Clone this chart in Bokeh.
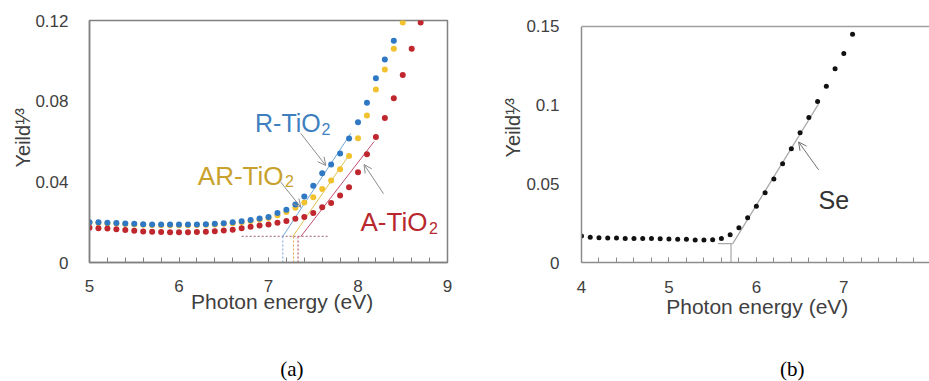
from bokeh.plotting import figure
from bokeh.layouts import row
from bokeh.models import Range1d, Label, Arrow, OpenHead, Span, FixedTicker, Title
from bokeh.embed import file_html
from bokeh.resources import INLINE

# ---------------- data: panel (a) ----------------
energy_r = [5.0, 5.1, 5.2, 5.3, 5.4, 5.5, 5.6, 5.7, 5.8, 5.9, 6.0, 6.1, 6.2, 6.3, 6.4, 6.5, 6.6, 6.7,
            6.8, 6.9, 7.0, 7.1, 7.2, 7.3, 7.4, 7.5, 7.6, 7.7, 7.8, 7.9, 8.0, 8.1, 8.2, 8.3, 8.4]
yield_r = [0.0200, 0.0199, 0.0197, 0.0196, 0.0194, 0.0192, 0.0190, 0.0189, 0.0188, 0.0188, 0.0188,
           0.0188, 0.0189, 0.0190, 0.0192, 0.0195, 0.0199, 0.0204, 0.0211, 0.0218, 0.0226, 0.0245,
           0.0262, 0.0288, 0.0327, 0.0380, 0.0443, 0.0486, 0.0541, 0.0615, 0.0696, 0.0792, 0.0914,
           0.1006, 0.1100]

energy_ar = [5.0, 5.1, 5.2, 5.3, 5.4, 5.5, 5.6, 5.7, 5.8, 5.9, 6.0, 6.1, 6.2, 6.3, 6.4, 6.5, 6.6, 6.7,
             6.8, 6.9, 7.0, 7.1, 7.2, 7.3, 7.4, 7.5, 7.6, 7.7, 7.8, 7.9, 8.0, 8.1, 8.2, 8.3, 8.4, 8.5]
yield_ar = [0.0197, 0.0196, 0.0194, 0.0193, 0.0191, 0.0189, 0.0187, 0.0186, 0.0185, 0.0185, 0.0185,
            0.0185, 0.0186, 0.0187, 0.0189, 0.0192, 0.0195, 0.0200, 0.0206, 0.0213, 0.0221, 0.0234,
            0.0250, 0.0272, 0.0298, 0.0323, 0.0365, 0.0407, 0.0462, 0.0528, 0.0616, 0.0729, 0.0858,
            0.0957, 0.1060, 0.1190]

energy_a = [5.0, 5.1, 5.2, 5.3, 5.4, 5.5, 5.6, 5.7, 5.8, 5.9, 6.0, 6.1, 6.2, 6.3, 6.4, 6.5, 6.6, 6.7,
            6.8, 6.9, 7.0, 7.1, 7.2, 7.3, 7.4, 7.5, 7.6, 7.7, 7.8, 7.9, 8.0, 8.1, 8.2, 8.3, 8.4, 8.5,
            8.6, 8.7]
yield_a = [0.0172, 0.0170, 0.0168, 0.0165, 0.0161, 0.0157, 0.0154, 0.0152, 0.0151, 0.0150, 0.0150,
           0.0150, 0.0151, 0.0153, 0.0155, 0.0159, 0.0163, 0.0170, 0.0177, 0.0183, 0.0189, 0.0197,
           0.0206, 0.0217, 0.0226, 0.0245, 0.0274, 0.0295, 0.0332, 0.0373, 0.0448, 0.0537, 0.0622,
           0.0716, 0.0815, 0.0930, 0.1060, 0.1190]

# threshold fits
fit_r_x, fit_r_y = [7.16, 7.92], [0.0130, 0.0640]
fit_ar_x, fit_ar_y = [7.27, 7.88], [0.0128, 0.0520]
fit_a_x, fit_a_y = [7.36, 8.18], [0.0128, 0.0600]
base_a_x, base_a_y = [6.70, 7.66], [0.0130, 0.0130]
thr_r, thr_ar, thr_a = 7.16, 7.28, 7.33
thr_top_a = 0.0130

# ---------------- data: panel (b) ----------------
energy_se = [4.0, 4.1, 4.2, 4.3, 4.4, 4.5, 4.6, 4.7, 4.8, 4.9, 5.0, 5.1, 5.2, 5.3, 5.4, 5.5, 5.6, 5.7,
             5.8, 5.9, 6.0, 6.1, 6.2, 6.3, 6.4, 6.5, 6.6, 6.7, 6.8, 6.9, 7.0, 7.1]
yield_se = [0.0169, 0.0161, 0.0158, 0.0156, 0.0156, 0.0153, 0.0152, 0.0152, 0.0152, 0.0151, 0.0150,
            0.0147, 0.0147, 0.0143, 0.0143, 0.0145, 0.0152, 0.0177, 0.0221, 0.0284, 0.0358, 0.0444,
            0.0531, 0.0628, 0.0723, 0.0824, 0.0921, 0.1024, 0.1121, 0.1232, 0.1329, 0.1451]
fit_se_x, fit_se_y = [5.73, 6.71], [0.0120, 0.1007]
base_se_x, base_se_y = [5.56, 5.73], [0.0120, 0.0120]
thr_se_x, thr_se_y = [5.71, 5.71], [0.0, 0.0120]

xticks_a = [5, 6, 7, 8, 9]
yticks_a = [0, 0.04, 0.08, 0.12]
ylabels_a = ["0", "0.04", "0.08", "0.12"]
xticks_b = [4, 5, 6, 7, 8]
yticks_b = [0, 0.05, 0.1, 0.15]
ylabels_b = ["0", "0.05", "0.1", "0.15"]

x_title = "Photon energy (eV)"
y_title = "Yeild\u00b9\u2044\u00b3"

FONT = "Liberation Sans"
SERIF = "Liberation Serif"
TICK_COLOR = "#404040"


def lab(p, x, y, text, size, color, align="left", font=FONT):
    p.add_layout(Label(x=x, y=y, x_units="screen", y_units="screen", text=text,
                       text_font=font, text_font_size=f"{size}px", text_color=color,
                       text_align=align, text_baseline="alphabetic"))


def title(p, side, text, size, offset, standoff, font=FONT, color=TICK_COLOR):
    kw = dict(text=text, align="left", offset=offset, standoff=standoff,
              vertical_align="bottom", text_font=font, text_font_size=f"{size}px",
              text_font_style="normal", text_color=color)
    try:
        t = Title(**kw)
    except Exception:
        kw["standoff"] = 0
        t = Title(**kw)
    p.add_layout(t, side)


def style_axes(p, xticks, minor, yticks, ylabels, axis_color, axis_width, xstand, ystand):
    xa = p.xaxis[0]
    xa.ticker = FixedTicker(ticks=xticks, minor_ticks=minor)
    xa.major_tick_in = 5
    xa.major_tick_out = 0
    xa.minor_tick_in = 5
    xa.minor_tick_out = 0
    xa.major_tick_line_color = axis_color
    xa.minor_tick_line_color = axis_color
    xa.axis_line_color = axis_color
    xa.axis_line_width = axis_width
    xa.major_label_text_font = FONT
    xa.major_label_text_font_size = "17px"
    xa.major_label_text_color = TICK_COLOR
    xa.major_label_standoff = xstand
    ya = p.yaxis[0]
    ya.ticker = FixedTicker(ticks=yticks)
    ya.major_label_overrides = {t: s for t, s in zip(yticks, ylabels)}
    ya.major_tick_line_color = None
    ya.minor_tick_line_color = None
    ya.axis_line_color = axis_color
    ya.axis_line_width = axis_width
    ya.major_label_text_font = FONT
    ya.major_label_text_font_size = "17px"
    ya.major_label_text_color = TICK_COLOR
    ya.major_label_standoff = ystand
    p.grid.visible = False


ARROW = "#8c8c8c"

# ---------------- panel (a) ----------------
pa = figure(width=470, height=381, x_range=Range1d(5, 9), y_range=Range1d(0, 0.12),
            output_backend="svg", toolbar_location=None,
            min_border_left=89, min_border_right=23, min_border_top=20, min_border_bottom=119)
pa.background_fill_color = "white"
pa.border_fill_color = "white"
pa.outline_line_color = "#808080"
pa.outline_line_width = 1.5
style_axes(pa, xticks_a, [5 + 0.2 * i for i in range(21)], yticks_a, ylabels_a,
           "#808080", 1.5, 17, 15)

pa.line(base_a_x, base_a_y, line_color="#a05a6a", line_width=1, line_dash="2 2")
pa.line([thr_r, thr_r], [0, thr_top_a], line_color="#6fa8dc", line_width=1, line_dash="2 2")
pa.line([thr_ar, thr_ar], [0, thr_top_a], line_color="#f0a040", line_width=1, line_dash="2 2")
pa.line([thr_a, thr_a], [0, thr_top_a], line_color="#b04050", line_width=1, line_dash="2 2")
pa.line(fit_r_x, fit_r_y, line_color="#6fa8dc", line_width=1)
pa.line(fit_ar_x, fit_ar_y, line_color="#e0c050", line_width=1)
pa.line(fit_a_x, fit_a_y, line_color="#c05070", line_width=1)

pa.scatter(energy_ar, yield_ar, size=6, fill_color="#f2c12e", line_color=None)
pa.scatter(energy_a, yield_a, size=6, fill_color="#c0262d", line_color=None)
pa.scatter(energy_r, yield_r, size=6, fill_color="#2f78c4", line_color=None)

arrows_a = [(7.361, 0.0640, 7.640, 0.0481), (7.138, 0.0398, 7.361, 0.0274),
            (8.285, 0.0341, 8.068, 0.0486)]
for xs, ys, xe, ye in arrows_a:
    pa.add_layout(Arrow(end=OpenHead(size=8, line_color=ARROW, line_width=1),
                        x_start=xs, y_start=ys, x_end=xe, y_end=ye,
                        line_color=ARROW, line_width=1))

lab(pa, 165.5, 139.5, "R-TiO", 25, "#3f7fbf")
lab(pa, 232.0, 133.5, "2", 16, "#3f7fbf")
lab(pa, 108.3, 86.5, "AR-TiO", 26, "#c8a22c")
lab(pa, 195.5, 81.5, "2", 16, "#c8a22c")
lab(pa, 271.0, 40.3, "A-TiO", 26, "#b8282e")
lab(pa, 339.5, 35.0, "2", 16, "#b8282e")

# texts outside the frame: stacked titles
title(pa, "below", x_title, 21, 101.6, -13)
title(pa, "below", " ", 1, 0, 45)
title(pa, "below", "(a)", 21, 190.8, 0, font=SERIF, color="black")
title(pa, "left", y_title, 20, 95, -2)

# ---------------- panel (b) ----------------
pb = figure(width=459, height=381, x_range=Range1d(4, 7.98), y_range=Range1d(0, 0.15381),
            output_backend="svg", toolbar_location=None,
            min_border_left=111, min_border_right=0, min_border_top=20, min_border_bottom=119)
pb.background_fill_color = "white"
pb.border_fill_color = "white"
pb.outline_line_color = None
style_axes(pb, xticks_b, [4 + 0.2 * i for i in range(20)], yticks_b, ylabels_b,
           "#8c8c8c", 1.5, 18, 16)
pb.yaxis[0].bounds = (0, 0.15)
pb.add_layout(Span(location=0.15, dimension="width", line_color="#a0a0a0", line_width=1.5))

pb.line(fit_se_x, fit_se_y, line_color="#a8a8a8", line_width=1.2)
pb.line(base_se_x, base_se_y, line_color="#a8a8a8", line_width=1.2)
pb.line(thr_se_x, thr_se_y, line_color="#a8a8a8", line_width=1.2)
pb.scatter(energy_se, yield_se, size=5, fill_color="#111111", line_color=None)

pb.add_layout(Arrow(end=OpenHead(size=8, line_color="#707070", line_width=1),
                    x_start=6.712, y_start=0.0589, x_end=6.483, y_end=0.0766,
                    line_color="#707070", line_width=1))
lab(pb, 237, 63, "Se", 25, "#333333")

title(pb, "below", x_title, 21, 84.7, -5)
title(pb, "below", " ", 1, 0, 36)
title(pb, "below", "(b)", 21, 198.4, 0, font=SERIF, color="black")
title(pb, "left", y_title, 20, 105, 0)

layout = row(pa, pb)
open("out.html", "w").write(file_html(layout, INLINE))
